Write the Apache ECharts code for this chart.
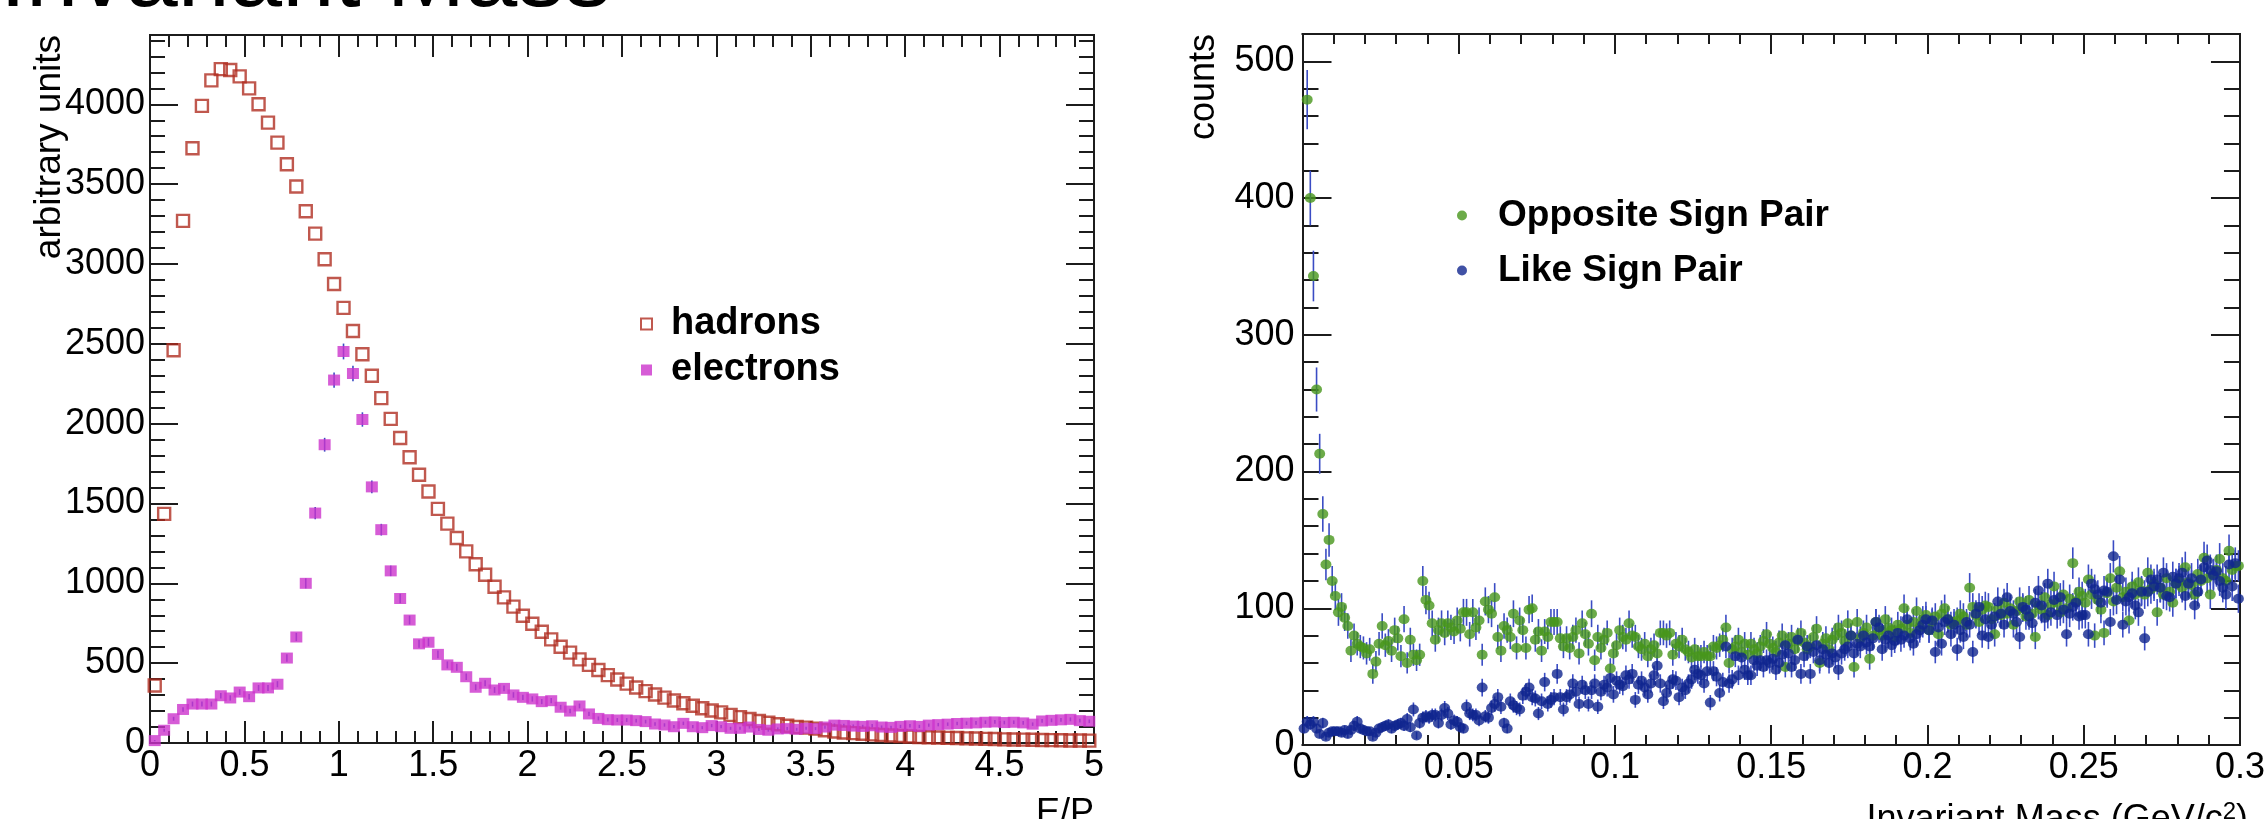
<!DOCTYPE html>
<html>
<head>
<meta charset="utf-8">
<title>E/P and invariant mass</title>
<script src="https://cdn.jsdelivr.net/npm/echarts@6.0.0/dist/echarts.min.js"></script>
<style>
  html, body { margin: 0; padding: 0; background: #fff; }
  #main { width: 2268px; height: 819px; }
</style>
</head>
<body>
<div id="main"></div>
<script>
// E/P histograms, 100 bins of 0.05 from 0 to 5
var hadrons = [
  360, 1435, 2460, 3270, 3725, 3990, 4150, 4220, 4215, 4175,
  4100, 4000, 3885, 3760, 3625, 3485, 3330, 3190, 3030, 2875,
  2725, 2580, 2435, 2300, 2160, 2030, 1910, 1790, 1680, 1575,
  1466, 1374, 1284, 1200, 1119, 1054, 979, 912, 854, 797,
  747, 697, 649, 603, 566, 524, 489, 457, 425, 398,
  372, 348, 325, 304, 284, 266, 249, 233, 218, 204,
  192, 176, 162, 150, 138, 127, 117, 108, 100, 96,
  90, 80, 72, 66, 62, 58, 54, 50, 47, 44,
  41, 38, 36, 34, 32, 31, 29, 28, 26, 25,
  23, 22, 21, 20, 19, 18, 17, 16, 16, 15
];
var electrons = [
  15, 80, 152, 210, 244, 244, 244, 296, 282, 319,
  290, 345, 345, 368, 532, 664, 1000, 1440, 1868, 2273,
  2452, 2314, 2026, 1604, 1336, 1078, 905, 770, 621, 631,
  555, 489, 474, 415, 349, 374, 332, 342, 301, 286,
  276, 259, 265, 224, 200, 232, 182, 154, 146, 144,
  144, 140, 134, 119, 113, 102, 123, 102, 96, 109,
  102, 92, 92, 100, 85, 80, 88, 90, 86, 92,
  90, 100, 112, 110, 106, 104, 108, 100, 98, 104,
  108, 104, 112, 115, 118, 122, 124, 126, 130, 132,
  128, 130, 126, 118, 138, 142, 145, 148, 140, 136
];

// pair mass histograms, 300 bins of 0.001 GeV/c2 from 0 to 0.3
var oppositeSign = [
  null, 472, 400, 343, 260, 213, 169, 132, 150, 120,
  109, 97, 101, 93, 87, 69, 80, 74, 72, 71,
  67, 70, 52, 61, 74, 87, 73, 76, 69, 84,
  78, 65, 92, 60, 77, 66, 62, 66, 120, 106,
  102, 89, 77, 84, 89, 82, 89, 86, 83, 91,
  85, 97, 97, 81, 97, 86, 91, 66, 105, 99,
  96, 108, 79, 69, 87, 84, 79, 96, 71, 91,
  84, 71, 99, 100, 77, 83, 69, 83, 79, 90,
  90, 90, 78, 72, 78, 71, 79, 84, 67, 89,
  81, 74, 96, 62, 79, 71, 77, 82, 56, 67,
  73, 84, 79, 77, 89, 80, 79, 72, 70, 74,
  65, 70, 73, 67, 82, 82, 80, 82, 66, 74,
  72, 77, 70, 68, 64, 70, 65, 65, 68, 65,
  65, 72, 71, 73, 77, 86, 60, 70, 72, 77,
  68, 74, 66, 74, 70, 67, 72, 76, 81, 74,
  71, 68, 75, 80, 57, 74, 79, 70, 76, 82,
  75, 70, 72, 79, 85, 60, 74, 78, 70, 77,
  80, 86, 82, 76, 89, 80, 57, 90, 78, 82,
  86, 63, 80, 90, 84, 80, 92, 86, 84, 79,
  88, 85, 100, 88, 82, 90, 98, 86, 92, 95,
  84, 90, 94, 81, 96, 100, 92, 88, 90, 91,
  96, 94, 88, 115, 101, 95, 90, 99, 102, 101,
  92, 81, 99, 95, 104, 96, 100, 88, 98, 105,
  100, 94, 106, 96, 79, 102, 99, 108, 95, 103,
  116, 104, 97, 110, 100, 107, 133, 105, 112, 109,
  104, 121, 110, 80, 106, 99, 82, 111, 122, 105,
  115, 127, 108, 112, 91, 116, 110, 119, 113, 110,
  126, 114, 118, 97, 115, 110, 122, 112, 104, 118,
  120, 115, 130, 119, 117, 110, 125, 120, 137, 122,
  110, 125, 128, 136, 122, 120, 142, 128, 131, 131
];
var likeSign = [
  12, 17, 15, 17, 12, 8, 16, 6, 9, 10,
  10, 10, 9, 11, 8, 11, 14, 17, 12, 11,
  10, 10, 6, 9, 12, 13, 14, 15, 12, 14,
  15, 16, 14, 19, 13, 26, 7, 16, 20, 21,
  20, 22, 22, 16, 22, 27, 23, 15, 18, 17,
  13, 12, 28, 23, 22, 22, 18, 42, 21, 20,
  27, 30, 35, 28, 16, 12, 32, 29, 27, 26,
  36, 39, 42, 35, 34, 23, 32, 46, 30, 33,
  35, 52, 35, 26, 35, 37, 45, 39, 30, 44,
  40, 30, 40, 45, 28, 39, 44, 42, 49, 37,
  47, 44, 43, 51, 48, 52, 33, 44, 47, 42,
  37, 45, 51, 58, 45, 32, 38, 44, 48, 47,
  35, 42, 40, 45, 48, 55, 52, 51, 45, 54,
  31, 54, 50, 38, 46, 72, 45, 48, 65, 51,
  64, 55, 51, 51, 62, 58, 62, 57, 62, 60,
  63, 55, 60, 66, 73, 67, 57, 62, 77, 52,
  65, 72, 52, 68, 73, 62, 70, 66, 60, 67,
  64, 55, 67, 70, 72, 80, 67, 74, 72, 80,
  75, 72, 78, 90, 86, 70, 77, 80, 73, 76,
  82, 77, 80, 92, 78, 74, 81, 84, 88, 92,
  84, 91, 68, 86, 74, 90, 92, 81, 88, 70,
  84, 79, 90, 88, 68, 96, 101, 80, 92, 79,
  88, 94, 105, 96, 88, 108, 98, 96, 90, 79,
  101, 99, 94, 89, 104, 113, 102, 93, 118, 97,
  106, 95, 108, 99, 81, 96, 101, 104, 94, 95,
  95, 81, 118, 114, 110, 104, 113, 112, 90, 138,
  106, 121, 88, 105, 108, 111, 102, 97, 112, 78,
  112, 121, 116, 121, 115, 126, 109, 108, 123, 118,
  122, 126, 109, 118, 122, 102, 112, 121, 130, 135,
  128, 124, 127, 120, 115, 110, 132, 116, 133, 107
];

// bin centres (the categories of both histograms)
var epCentres = hadrons.map(function (v, i) { return 0.025 + 0.05 * i; });
var massCentres = likeSign.map(function (v, i) { return 0.0005 + 0.001 * i; });

var FONT = '"Liberation Sans", Arial, Helvetica, sans-serif';
var FRAME = '#1c1c1c';
var ERRBLUE = '#3a4cc4';

function pairs(xs, ys) {
  var out = [];
  for (var i = 0; i < ys.length; i++) {
    if (ys[i] != null) out.push([xs[i], ys[i]]);
  }
  return out;
}

// one value axis of the ROOT-like frame: ticks inside, labels only on left/bottom
function frameAxis(grid, pos, min, max, step, tickLen, withLabel, margin) {
  return {
    type: 'value',
    gridIndex: grid,
    position: pos,
    min: min,
    max: max,
    interval: step,
    splitLine: { show: false },
    axisLine: { show: true, onZero: false, lineStyle: { color: FRAME, width: 2 } },
    axisTick: { show: true, inside: true, length: tickLen, lineStyle: { color: FRAME, width: 2 } },
    axisLabel: {
      show: withLabel,
      margin: margin,
      fontFamily: FONT,
      fontSize: 36,
      color: '#000',
      showMaxLabel: pos === 'bottom',
      formatter: function (v) { return String(+v.toFixed(4)); }
    }
  };
}

function errorBars(xIdx, yIdx, xs, ys) {
  var data = [];
  for (var i = 0; i < ys.length; i++) {
    if (ys[i] == null) continue;
    var e = Math.sqrt(ys[i]);
    data.push([xs[i], ys[i] - e, ys[i] + e]);
  }
  return {
    type: 'custom',
    xAxisIndex: xIdx,
    yAxisIndex: yIdx,
    silent: true,
    clip: true,
    data: data,
    encode: { x: 0, y: [1, 2] },
    renderItem: function (params, api) {
      var lo = api.coord([api.value(0), api.value(1)]);
      var hi = api.coord([api.value(0), api.value(2)]);
      return {
        type: 'line',
        shape: { x1: lo[0], y1: lo[1], x2: hi[0], y2: hi[1] },
        style: { stroke: ERRBLUE, lineWidth: 1.6 }
      };
    }
  };
}

var chart = echarts.init(document.getElementById('main'), null, { renderer: 'canvas' });

var option = {
  backgroundColor: '#fff',
  animation: false,
  grid: [
    { left: 150, top: 35, width: 944, height: 708 },
    { left: 1302.5, top: 34, width: 945.5, height: 711 }
  ],
  xAxis: [
    frameAxis(0, 'bottom', 0, 5, 0.5, 22, true, 5),
    frameAxis(0, 'bottom', 0, 5, 0.1, 12, false, 0),
    frameAxis(0, 'top', 0, 5, 0.5, 22, false, 0),
    frameAxis(0, 'top', 0, 5, 0.1, 12, false, 0),
    frameAxis(1, 'bottom', 0, 0.3, 0.05, 20, true, 5),
    frameAxis(1, 'bottom', 0, 0.3, 0.01, 10, false, 0),
    frameAxis(1, 'top', 0, 0.3, 0.05, 20, false, 0),
    frameAxis(1, 'top', 0, 0.3, 0.01, 10, false, 0)
  ],
  yAxis: [
    frameAxis(0, 'left', 0, 4434, 500, 28, true, 5),
    frameAxis(0, 'left', 0, 4434, 100, 15, false, 0),
    frameAxis(0, 'right', 0, 4434, 500, 28, false, 0),
    frameAxis(0, 'right', 0, 4434, 100, 15, false, 0),
    frameAxis(1, 'left', 0, 520, 100, 29, true, 8),
    frameAxis(1, 'left', 0, 520, 20, 16, false, 0),
    frameAxis(1, 'right', 0, 520, 100, 29, false, 0),
    frameAxis(1, 'right', 0, 520, 20, 16, false, 0)
  ],
  legend: [
    {
      data: ['hadrons', 'electrons'],
      orient: 'vertical',
      left: 635,
      top: 300,
      itemWidth: 11,
      itemHeight: 11,
      itemGap: 8,
      selectedMode: false,
      textStyle: { fontFamily: FONT, fontSize: 38, fontWeight: 'bold', color: '#000', padding: [0, 0, 0, 14] }
    },
    {
      data: ['Opposite Sign Pair', 'Like Sign Pair'],
      orient: 'vertical',
      left: 1452,
      top: 192,
      itemWidth: 10,
      itemHeight: 10,
      itemGap: 18,
      selectedMode: false,
      textStyle: { fontFamily: FONT, fontSize: 37, fontWeight: 'bold', color: '#000', padding: [0, 0, 0, 26] }
    }
  ],
  graphic: [
    {
      type: 'text', x: 0, y: -20, silent: true,
      style: { text: 'Invariant Mass', fontFamily: FONT, fontSize: 94, fill: '#000', align: 'left', verticalAlign: 'middle' }
    },
    {
      type: 'text', x: 50, y: 35, rotation: Math.PI / 2, silent: true,
      style: { text: 'arbitrary units', fontFamily: FONT, fontSize: 37, fill: '#000', align: 'right', verticalAlign: 'middle' }
    },
    {
      type: 'text', x: 1204, y: 34, rotation: Math.PI / 2, silent: true,
      style: { text: 'counts', fontFamily: FONT, fontSize: 36, fill: '#000', align: 'right', verticalAlign: 'middle' }
    },
    {
      type: 'text', x: 1094, y: 796, silent: true,
      style: { text: 'E/P', fontFamily: FONT, fontSize: 36, fill: '#000', align: 'right', verticalAlign: 'top' }
    },
    {
      type: 'text', x: 2248, y: 800, silent: true,
      style: {
        text: 'Invariant Mass (GeV/c{sup|2})',
        fontFamily: FONT, fontSize: 36, fill: '#000', align: 'right', verticalAlign: 'top',
        rich: { sup: { fontFamily: FONT, fontSize: 24, fill: '#000', padding: [0, 0, 16, 0] } }
      }
    }
  ],
  series: [
    {
      name: 'hadrons',
      type: 'scatter',
      xAxisIndex: 0,
      yAxisIndex: 0,
      symbol: 'rect',
      symbolSize: [12, 12],
      itemStyle: { color: 'rgba(255,255,255,0)', borderColor: '#b02e22', borderWidth: 2.4 },
      data: pairs(epCentres, hadrons)
    },
    errorBars(0, 0, epCentres, electrons),
    {
      name: 'electrons',
      type: 'scatter',
      xAxisIndex: 0,
      yAxisIndex: 0,
      symbol: 'rect',
      symbolSize: [12, 11],
      itemStyle: { color: '#cc33cc' },
      data: pairs(epCentres, electrons)
    },
    errorBars(4, 4, massCentres, oppositeSign),
    {
      name: 'Opposite Sign Pair',
      type: 'scatter',
      xAxisIndex: 4,
      yAxisIndex: 4,
      symbol: 'circle',
      symbolSize: [11, 10],
      itemStyle: { color: '#47961c' },
      data: pairs(massCentres, oppositeSign)
    },
    errorBars(4, 4, massCentres, likeSign),
    {
      name: 'Like Sign Pair',
      type: 'scatter',
      xAxisIndex: 4,
      yAxisIndex: 4,
      symbol: 'circle',
      symbolSize: [11, 10],
      itemStyle: { color: '#10268f' },
      data: pairs(massCentres, likeSign)
    }
  ]
};

chart.setOption(option);
</script>
</body>
</html>
